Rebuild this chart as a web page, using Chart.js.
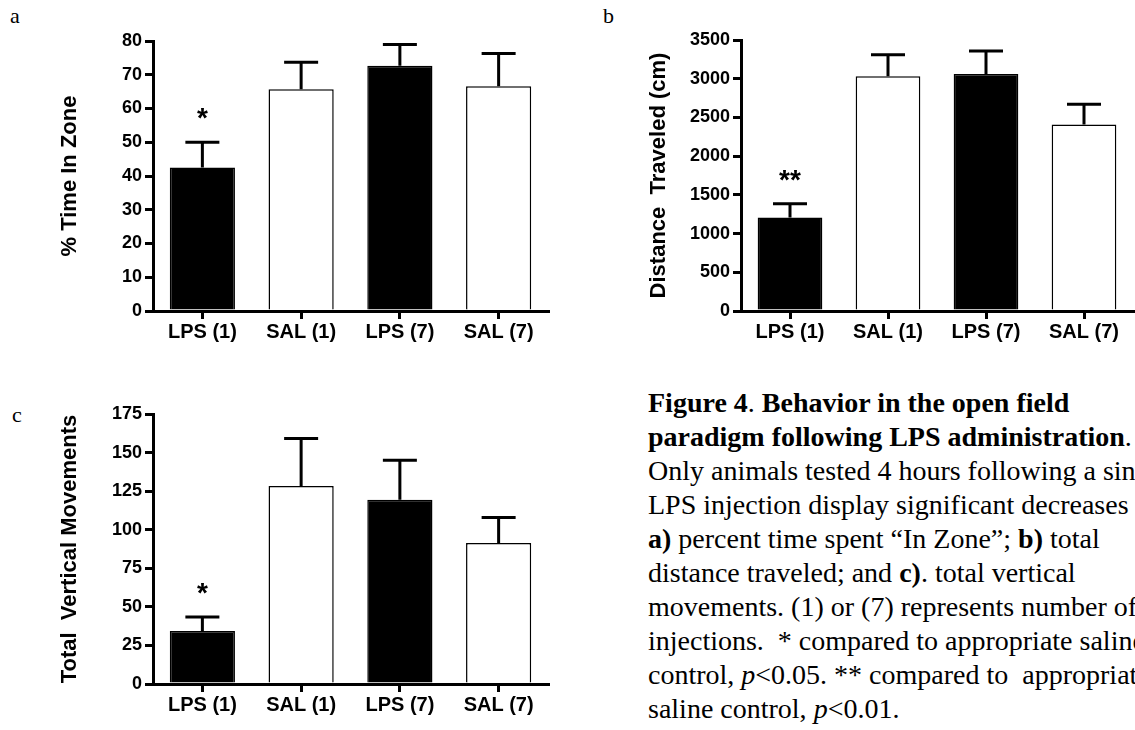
<!DOCTYPE html>
<html>
<head>
<meta charset="utf-8">
<script src="https://cdn.jsdelivr.net/npm/chart.js@4"></script>
<style>
  body { margin: 0; width: 1135px; height: 730px; overflow: hidden; background: #fff; position: relative; }
  canvas { position: absolute; }
  .tag { position: absolute; font-family: "Liberation Serif", serif; font-size: 22px; line-height: 22px; }
  .caption {
    position: absolute; left: 648px; top: 386px;
    font-family: "Liberation Serif", serif; font-size: 28px; line-height: 34px;
    white-space: pre; color: #000;
  }
</style>
</head>
<body>
<div class="tag" style="left:10px;top:5px">a</div>
<div class="tag" style="left:603px;top:5px">b</div>
<div class="tag" style="left:12px;top:404px">c</div>

<canvas id="zone" width="560" height="350" style="left:0;top:0"></canvas>
<canvas id="dist" width="555" height="350" style="left:580px;top:0"></canvas>
<canvas id="vert" width="560" height="360" style="left:0;top:370px"></canvas>

<div class="caption"><b>Figure 4</b>. <b>Behavior in the open field</b>
<b>paradigm following LPS administration</b>.
Only animals tested 4 hours following a single
LPS injection display significant decreases in
<b>a)</b> percent time spent “In Zone”; <b>b)</b> total
distance traveled; and <b>c)</b>. total vertical
movements. (1) or (7) represents number of
injections.  * compared to appropriate saline
control, <i>p</i>&lt;0.05. ** compared to  appropriate
saline control, <i>p</i>&lt;0.01.</div>

<script>
const groups = ["LPS (1)", "SAL (1)", "LPS (7)", "SAL (7)"];

// a) % time in zone, mean and SEM
const zoneMean = [42.5, 65.7, 72.7, 66.6];
const zoneSem = [7.5, 8.0, 6.3, 9.7];
const zoneStars = ["*", "", "", ""];

// b) distance traveled (cm)
const distMean = [1209, 3032, 3062, 2408];
const distSem = [177, 279, 296, 263];
const distStars = ["**", "", "", ""];

// c) total vertical movements
const vertMean = [34.3, 128.4, 119.4, 91.4];
const vertSem = [9.1, 30.8, 25.7, 16.5];
const vertStars = ["*", "", "", ""];

const SANS = "'Liberation Sans', Arial, sans-serif";

// SEM whiskers (upper only) plus significance marks
const errorBars = {
	id: "errorBars",
	afterDatasetsDraw(chart) {
		const ctx = chart.ctx;
		const ds = chart.data.datasets[0];
		const y = chart.scales.y;
		const bars = chart.getDatasetMeta(0).data;
		ctx.save();
		ctx.strokeStyle = "#000";
		ctx.lineWidth = 3;
		bars.forEach((bar, i) => {
			const top = y.getPixelForValue(ds.data[i] + ds.sem[i]);
			ctx.beginPath();
			ctx.moveTo(bar.x, bar.y);
			ctx.lineTo(bar.x, top);
			ctx.moveTo(bar.x - 17, top);
			ctx.lineTo(bar.x + 17, top);
			ctx.stroke();
			if (ds.stars[i]) {
				ctx.fillStyle = "#000";
				ctx.font = "bold 28px " + SANS;
				ctx.textAlign = "center";
				ctx.textBaseline = "alphabetic";
				ctx.fillText(ds.stars[i], bar.x, top - 15);
			}
		});
		ctx.restore();
	},
};

function drawPanel(id, mean, sem, stars, yMax, yStep, yTitle, geo) {
	const ctx = document.getElementById(id);
	return new Chart(ctx, {
		type: "bar",
		data: {
			labels: groups,
			datasets: [
				{
					data: mean,
					sem: sem,
					stars: stars,
					backgroundColor: ["#000", "#fff", "#000", "#fff"],
					borderColor: "#000",
					borderWidth: 1.5,
					categoryPercentage: 0.66,
					barPercentage: 1,
				},
			],
		},
		options: {
			responsive: false,
			animation: false,
			layout: {
				padding: { left: 0, right: geo.right, top: geo.top, bottom: 0 },
			},
			plugins: {
				legend: { display: false },
				tooltip: { enabled: false },
			},
			scales: {
				x: {
					grid: {
						offset: false,
						drawOnChartArea: false,
						tickLength: 8,
						lineWidth: 3,
						color: "#000",
					},
					border: { color: "#000", width: 3 },
					ticks: {
						color: "#000",
						padding: 1,
						maxRotation: 0,
						font: { family: SANS, weight: "bold", size: 20 },
					},
					afterFit: (s) => { s.height = geo.xHeight; },
				},
				y: {
					min: 0,
					max: yMax,
					grid: {
						drawOnChartArea: false,
						tickLength: 8,
						lineWidth: 3,
						color: "#000",
					},
					border: { color: "#000", width: 3 },
					ticks: {
						stepSize: yStep,
						color: "#000",
						padding: 3,
						font: { family: SANS, weight: "bold", size: 18 },
						callback: (v) => String(v),
					},
					title: {
						display: true,
						text: yTitle,
						color: "#000",
						padding: { top: geo.titlePad, bottom: 0 },
						font: { family: SANS, weight: "bold", size: 22 },
					},
					afterFit: (s) => { s.width = geo.yWidth; },
				},
			},
		},
		plugins: [errorBars],
	});
}

drawPanel("zone", zoneMean, zoneSem, zoneStars, 80, 10, "% Time In Zone",
	{ top: 41, right: 12, xHeight: 39, yWidth: 153, titlePad: 57 });
drawPanel("dist", distMean, distSem, distStars, 3500, 500, "Distance  Traveled (cm)",
	{ top: 40, right: 2, xHeight: 39, yWidth: 161, titlePad: 66 });
drawPanel("vert", vertMean, vertSem, vertStars, 175, 25, "Total  Vertical Movements",
	{ top: 44, right: 12, xHeight: 46, yWidth: 153, titlePad: 57 });
</script>
</body>
</html>
